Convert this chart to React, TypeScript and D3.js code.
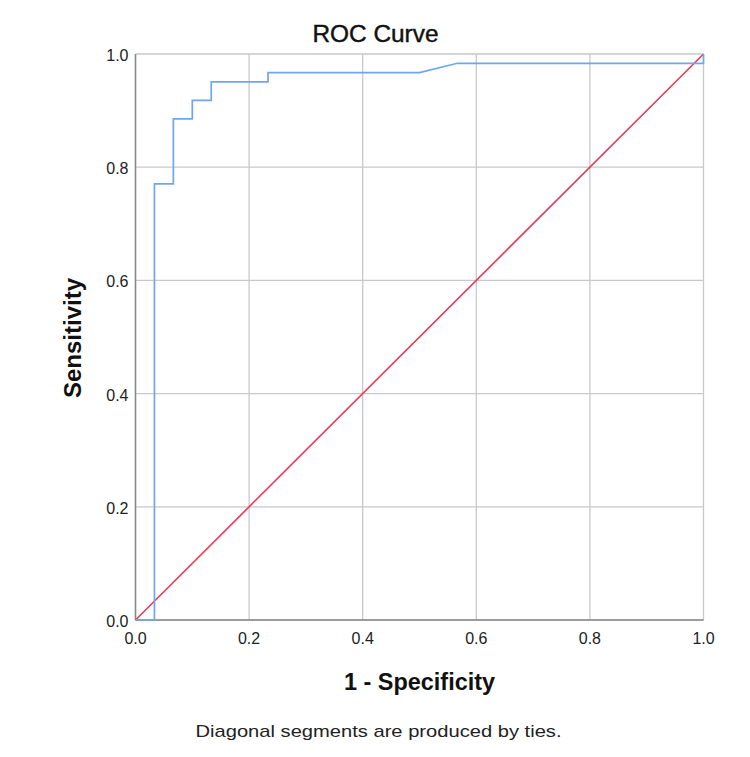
import React, { useEffect, useRef } from 'react';
import * as d3 from 'd3';

// ROC step curve: false positive rate (n=30 negatives) vs sensitivity (n=61 positives)
const fpr = [0, 1 / 30, 1 / 30, 2 / 30, 2 / 30, 3 / 30, 3 / 30, 4 / 30, 4 / 30, 7 / 30, 7 / 30, 15 / 30, 17 / 30, 1, 1];
const tpr = [0, 0, 47 / 61, 47 / 61, 54 / 61, 54 / 61, 56 / 61, 56 / 61, 58 / 61, 58 / 61, 59 / 61, 59 / 61, 60 / 61, 60 / 61, 1];
const refLine = [0, 1];
const ticks = [0, 0.2, 0.4, 0.6, 0.8, 1.0];

const W = 750;
const H = 757;
const margin = { left: 135.5, right: 46.5, top: 54, bottom: 137 };

const App = () => {
  const ref = useRef<SVGSVGElement>(null);

  useEffect(() => {
    const svg = d3.select(ref.current);
    svg.selectAll('*').remove();

    const x = d3.scaleLinear().domain([0, 1]).range([margin.left, W - margin.right]);
    const y = d3.scaleLinear().domain([0, 1]).range([H - margin.bottom, margin.top]);
    const font = "'Liberation Sans', Arial, sans-serif";

    // grid
    const grid = svg.append('g').attr('stroke', '#c9c9c9').attr('stroke-width', 1.3);
    ticks.forEach(t => {
      grid.append('line').attr('x1', x(t)).attr('x2', x(t)).attr('y1', y(0)).attr('y2', y(1));
      grid.append('line').attr('x1', x(0)).attr('x2', x(1)).attr('y1', y(t)).attr('y2', y(t));
    });

    // axis lines
    svg.append('line').attr('x1', x(0)).attr('x2', x(0)).attr('y1', y(0)).attr('y2', y(1))
      .attr('stroke', '#888').attr('stroke-width', 1.5);
    svg.append('line').attr('x1', x(0)).attr('x2', x(1)).attr('y1', y(0)).attr('y2', y(0))
      .attr('stroke', '#888').attr('stroke-width', 1.5);

    // tick labels
    svg.append('g').selectAll('text').data(ticks).enter().append('text')
      .attr('x', x(0) - 7).attr('y', d => y(d) + 7)
      .attr('text-anchor', 'end').attr('font-family', font).attr('font-size', 16).attr('fill', '#222')
      .text(d => d.toFixed(1));
    svg.append('g').selectAll('text').data(ticks).enter().append('text')
      .attr('x', d => x(d)).attr('y', y(0) + 24)
      .attr('text-anchor', 'middle').attr('font-family', font).attr('font-size', 16).attr('fill', '#222')
      .text(d => d.toFixed(1));

    // reference diagonal
    svg.append('line')
      .attr('x1', x(refLine[0])).attr('y1', y(refLine[0]))
      .attr('x2', x(refLine[1])).attr('y2', y(refLine[1]))
      .attr('stroke', '#e6405d').attr('stroke-width', 1.7);

    // ROC curve
    const line = d3.line<number>().x((d, i) => x(fpr[i])).y(d => y(d));
    svg.append('path').datum(tpr).attr('d', line)
      .attr('fill', 'none').attr('stroke', '#6fa7ee').attr('stroke-width', 1.7);

    // titles
    svg.append('text').attr('x', 375.5).attr('y', 42).attr('text-anchor', 'middle')
      .attr('font-family', font).attr('font-size', 23).attr('fill', '#111')
      .attr('stroke', '#111').attr('stroke-width', 0.4)
      .attr('textLength', 126).attr('lengthAdjust', 'spacingAndGlyphs')
      .text('ROC Curve');
    svg.append('text').attr('x', 419.5).attr('y', 690).attr('text-anchor', 'middle')
      .attr('font-family', font).attr('font-size', 23).attr('font-weight', 'bold').attr('fill', '#111')
      .attr('textLength', 151).attr('lengthAdjust', 'spacingAndGlyphs')
      .text('1 - Specificity');
    svg.append('text').attr('transform', 'translate(81,338) rotate(-90)')
      .attr('text-anchor', 'middle')
      .attr('font-family', font).attr('font-size', 23).attr('font-weight', 'bold').attr('fill', '#111')
      .attr('textLength', 120).attr('lengthAdjust', 'spacingAndGlyphs')
      .text('Sensitivity');
    svg.append('text').attr('x', 378.5).attr('y', 737).attr('text-anchor', 'middle')
      .attr('font-family', font).attr('font-size', 17).attr('fill', '#222')
      .attr('textLength', 366).attr('lengthAdjust', 'spacingAndGlyphs')
      .text('Diagonal segments are produced by ties.');
  }, []);

  return (
    <svg ref={ref} width={W} height={H} style={{ position: 'absolute', left: 0, top: 0, background: '#fff' }} />
  );
};

export default App;
